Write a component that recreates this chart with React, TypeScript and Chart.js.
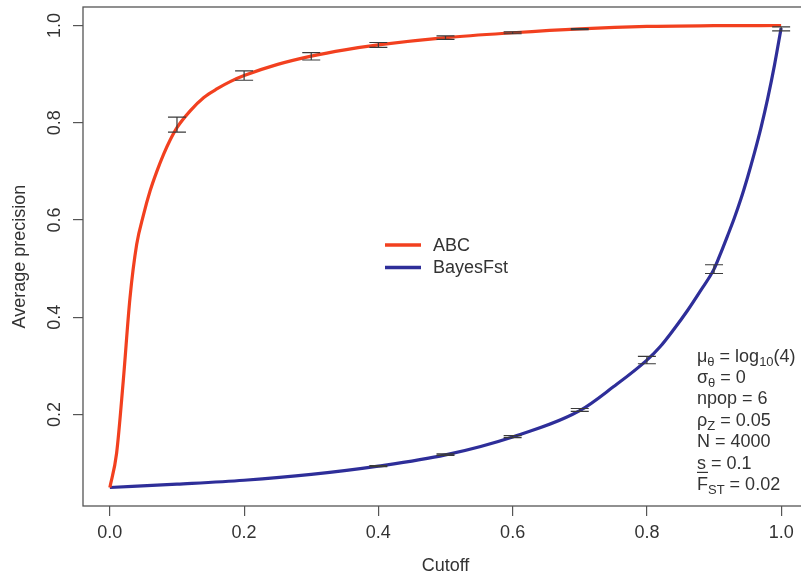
import React, { useEffect, useRef } from 'react';
import { Chart, registerables } from 'chart.js';

Chart.register(...registerables);

// ---- data ----
const cutoffABC = [0, 0.01, 0.02, 0.03, 0.04, 0.05, 0.06, 0.07, 0.08, 0.09, 0.1, 0.12, 0.14, 0.16, 0.18, 0.2, 0.25, 0.3, 0.35, 0.4, 0.5, 0.6, 0.7, 0.8, 0.9, 1.0];
const precisionABC = [0.05, 0.12, 0.27, 0.44, 0.55, 0.61, 0.66, 0.70, 0.735, 0.765, 0.79, 0.825, 0.852, 0.87, 0.885, 0.897, 0.92, 0.937, 0.95, 0.96, 0.975, 0.985, 0.993, 0.998, 0.9995, 1.0];

const cutoffBayes = [0, 0.1, 0.2, 0.3, 0.4, 0.5, 0.6, 0.7, 0.75, 0.8, 0.82, 0.84, 0.86, 0.88, 0.9, 0.91, 0.92, 0.93, 0.94, 0.95, 0.96, 0.97, 0.98, 0.99, 1.0];
const precisionBayes = [0.05, 0.057, 0.065, 0.077, 0.094, 0.117, 0.154, 0.208, 0.257, 0.312, 0.34, 0.375, 0.413, 0.455, 0.499, 0.532, 0.567, 0.603, 0.643, 0.688, 0.737, 0.79, 0.85, 0.918, 0.995];

const barCutoffs = [0.1, 0.2, 0.3, 0.4, 0.5, 0.6, 0.7, 0.8, 0.9, 1.0];
const abcMean = [0.796, 0.897, 0.9365, 0.96, 0.975, 0.985, 0.9926, 0.998, 0.9995, 1.0];
const abcErr = [0.0154, 0.0096, 0.0075, 0.005, 0.0035, 0.002, 0.0012, 0, 0, 0];
const bayesMean = [0.057, 0.065, 0.077, 0.094, 0.1176, 0.1546, 0.2095, 0.312, 0.499, 0.993];
const bayesErr = [0, 0, 0, 0.0012, 0.0015, 0.002, 0.003, 0.0075, 0.009, 0.004];

const xTicks = [0, 0.2, 0.4, 0.6, 0.8, 1.0];
const yTicks = [0.2, 0.4, 0.6, 0.8, 1.0];

const seriesNames = ['ABC', 'BayesFst'];
const seriesColors = ['#f2401f', '#2e2e99'];

type Seg = { t: string; sub?: boolean; over?: boolean };
const annotationLines: Seg[][] = [
  [{ t: 'μ' }, { t: 'θ', sub: true }, { t: ' = log' }, { t: '10', sub: true }, { t: '(4)' }],
  [{ t: 'σ' }, { t: 'θ', sub: true }, { t: ' = 0' }],
  [{ t: 'npop = 6' }],
  [{ t: 'ρ' }, { t: 'Z', sub: true }, { t: ' = 0.05' }],
  [{ t: 'N = 4000' }],
  [{ t: 's = 0.1' }],
  [{ t: 'F', over: true }, { t: 'ST', sub: true }, { t: ' = 0.02' }],
];

const FONT = '"Liberation Sans", Arial, Helvetica, sans-serif';
const TEXT = '#333333';
const AXIS = '#555555';

const decorPlugin = {
  id: 'decor',
  afterDatasetsDraw(chart: any) {
    const ctx = chart.ctx;
    const xs = chart.scales.x;
    const ys = chart.scales.y;
    ctx.save();
    ctx.strokeStyle = '#3a3a3a';
    ctx.lineWidth = 1.2;
    const drawBars = (means: number[], errs: number[]) => {
      barCutoffs.forEach((c, i) => {
        if (!errs[i]) return;
        const px = xs.getPixelForValue(c);
        const top = ys.getPixelForValue(means[i] + errs[i]);
        const bot = ys.getPixelForValue(means[i] - errs[i]);
        ctx.beginPath();
        ctx.moveTo(px, top);
        ctx.lineTo(px, bot);
        ctx.moveTo(px - 9, top);
        ctx.lineTo(px + 9, top);
        ctx.moveTo(px - 9, bot);
        ctx.lineTo(px + 9, bot);
        ctx.stroke();
      });
    };
    drawBars(abcMean, abcErr);
    drawBars(bayesMean, bayesErr);
    ctx.restore();
  },
  afterDraw(chart: any) {
    const ctx = chart.ctx;
    const ca = chart.chartArea;
    ctx.save();
    ctx.strokeStyle = AXIS;
    ctx.lineWidth = 1.3;
    ctx.strokeRect(ca.left, ca.top, ca.right - ca.left, ca.bottom - ca.top);

    const legY = [245, 267.5];
    seriesNames.forEach((name, i) => {
      ctx.strokeStyle = seriesColors[i];
      ctx.lineWidth = 3.5;
      ctx.beginPath();
      ctx.moveTo(385, legY[i]);
      ctx.lineTo(421, legY[i]);
      ctx.stroke();
      ctx.fillStyle = TEXT;
      ctx.font = `18px ${FONT}`;
      ctx.textBaseline = 'middle';
      ctx.textAlign = 'left';
      ctx.fillText(name, 433, legY[i] + 1);
    });

    ctx.textBaseline = 'alphabetic';
    ctx.textAlign = 'left';
    ctx.fillStyle = TEXT;
    annotationLines.forEach((line, li) => {
      let x = 697;
      const base = 361.5 + li * 21.4;
      line.forEach((seg) => {
        ctx.font = seg.sub ? `13px ${FONT}` : `18px ${FONT}`;
        const y = seg.sub ? base + 4 : base;
        ctx.fillText(seg.t, x, y);
        const w = ctx.measureText(seg.t).width;
        if (seg.over) {
          ctx.strokeStyle = TEXT;
          ctx.lineWidth = 1.2;
          ctx.beginPath();
          ctx.moveTo(x, base - 17.5);
          ctx.lineTo(x + w, base - 17.5);
          ctx.stroke();
        }
        x += w;
      });
    });
    ctx.restore();
  },
};

export default function App() {
  const ref = useRef<HTMLCanvasElement | null>(null);

  useEffect(() => {
    if (!ref.current) return;
    const chart = new Chart(ref.current, {
      type: 'line',
      data: {
        datasets: [
          {
            label: seriesNames[0],
            data: cutoffABC.map((c, i) => ({ x: c, y: precisionABC[i] })),
            borderColor: seriesColors[0],
            borderWidth: 3.2,
            pointRadius: 0,
            cubicInterpolationMode: 'monotone',
            fill: false,
          },
          {
            label: seriesNames[1],
            data: cutoffBayes.map((c, i) => ({ x: c, y: precisionBayes[i] })),
            borderColor: seriesColors[1],
            borderWidth: 3.2,
            pointRadius: 0,
            cubicInterpolationMode: 'monotone',
            fill: false,
          },
        ],
      },
      options: {
        animation: false,
        responsive: false,
        devicePixelRatio: 1,
        layout: { padding: { top: 7, right: 22, bottom: 0, left: 0 } },
        plugins: { legend: { display: false }, tooltip: { enabled: false } },
        scales: {
          x: {
            type: 'linear',
            min: -0.04,
            max: 1.04,
            afterBuildTicks: (s: any) => { s.ticks = xTicks.map((v) => ({ value: v })); },
            afterFit: (s: any) => { s.height = 73; s.paddingLeft = 0; s.paddingRight = 0; },
            border: { display: false },
            grid: { drawOnChartArea: false, drawTicks: true, tickLength: 10, color: AXIS, lineWidth: 1.2 },
            ticks: {
              padding: 6,
              color: TEXT,
              font: { family: FONT, size: 18 },
              maxRotation: 0,
              minRotation: 0,
              callback: (v: any) => Number(v).toFixed(1),
            },
            title: {
              display: true,
              text: 'Cutoff',
              color: TEXT,
              font: { family: FONT, size: 18 },
              padding: { top: 5.6, bottom: 2.2 },
            },
          },
          y: {
            type: 'linear',
            min: 0.012,
            max: 1.038,
            afterBuildTicks: (s: any) => { s.ticks = yTicks.map((v) => ({ value: v })); },
            afterFit: (s: any) => { s.width = 83; s.paddingTop = 0; s.paddingBottom = 0; },
            border: { display: false },
            grid: { drawOnChartArea: false, drawTicks: true, tickLength: 10, color: AXIS, lineWidth: 1.2 },
            ticks: {
              padding: 5.5,
              color: TEXT,
              font: { family: FONT, size: 18 },
              minRotation: 90,
              maxRotation: 90,
              crossAlign: 'center',
              callback: (v: any) => Number(v).toFixed(1),
            },
            title: {
              display: true,
              text: 'Average precision',
              color: TEXT,
              font: { family: FONT, size: 18 },
              padding: { top: 9.2, bottom: 9.6 },
            },
          },
        },
      },
      plugins: [decorPlugin],
    } as any);
    return () => chart.destroy();
  }, []);

  return (
    <div style={{ position: 'fixed', left: 0, top: 0, width: 801, height: 579, overflow: 'hidden', background: '#ffffff' }}>
      <canvas ref={ref} width={830} height={579} style={{ display: 'block', width: 830, height: 579 }} />
    </div>
  );
}
